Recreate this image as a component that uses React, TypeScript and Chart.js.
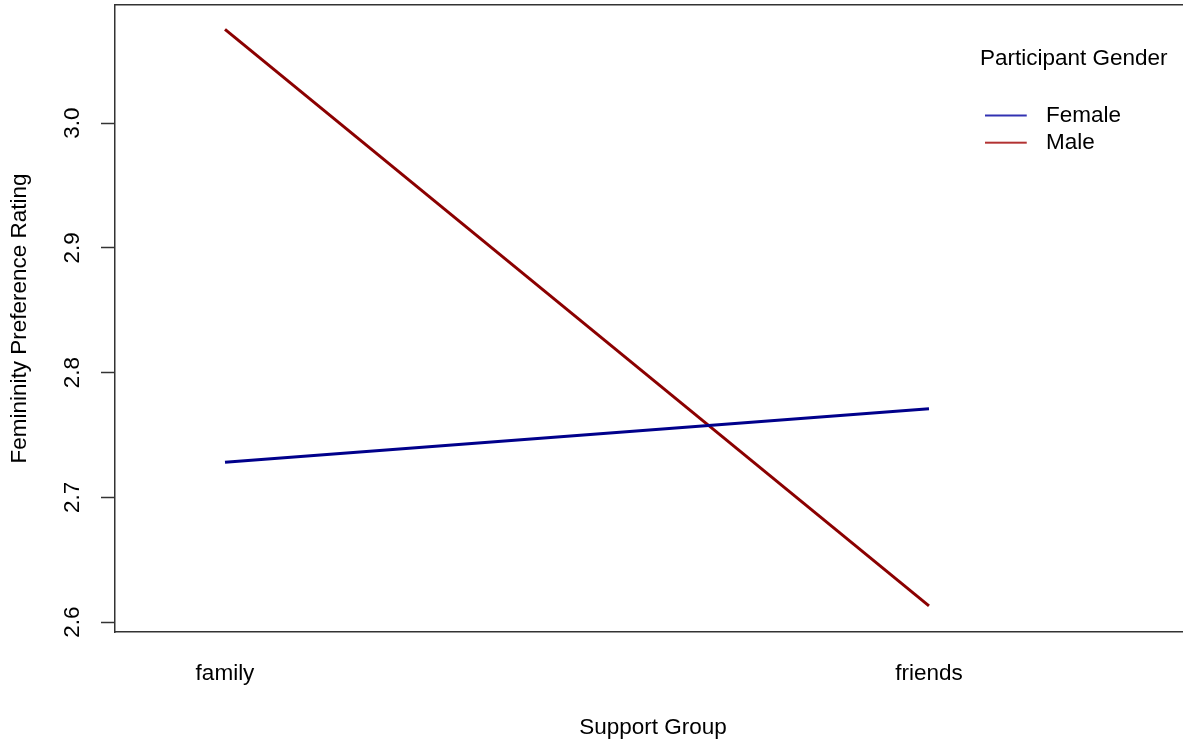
import React, { useEffect, useRef } from 'react';
import { Chart, registerables } from 'chart.js';

Chart.register(...registerables);

// ---- data ----
const groups = ['family', 'friends'];
const groupPositions = [1, 2];
const femaleValues = [2.728, 2.771];
const maleValues = [3.075, 2.613];
const yTicks = [2.6, 2.7, 2.8, 2.9, 3.0];
const seriesNames = ['Female', 'Male'];
const seriesColors = ['#00008B', '#8B0000'];
const legendMarkerColors = ['#0000a0', '#a00000'];
const xTitle = 'Support Group';
const yTitle = 'Femininity Preference Rating';
const legendTitle = 'Participant Gender';

const FONT = "'Liberation Sans', Arial, sans-serif";
const FS = 22.5;
const AXIS_COLOR = '#333';

function lineMarker(color: string): HTMLCanvasElement {
  const c = document.createElement('canvas');
  c.width = 50;
  c.height = 4;
  const g = c.getContext('2d');
  if (g) {
    g.fillStyle = color;
    g.fillRect(0, 1.2, 42, 1.6);
  }
  return c;
}

const legendPlacer = {
  id: 'legendPlacer',
  afterLayout(chart: any) {
    const lg = chart.legend;
    if (!lg) return;
    const w = 215;
    const h = lg.height;
    lg.width = w;
    lg.left = 980;
    lg.top = 40;
    lg.right = 980 + w;
    lg.bottom = 40 + h;
  },
};

export default function App() {
  const ref = useRef<HTMLCanvasElement | null>(null);

  useEffect(() => {
    if (!ref.current) return;
    const series = [femaleValues, maleValues];
    const chart = new Chart(ref.current, {
      type: 'line',
      data: {
        datasets: series.map((vals, i) => ({
          label: seriesNames[i],
          data: vals.map((v, j) => ({ x: groupPositions[j], y: v })),
          borderColor: seriesColors[i],
          backgroundColor: seriesColors[i],
          borderWidth: 3,
          pointRadius: 0,
          pointHoverRadius: 0,
          pointStyle: lineMarker(legendMarkerColors[i]) as any,
          tension: 0,
          fill: false,
        })),
      },
      options: {
        responsive: false,
        animation: false,
        events: [],
        layout: { padding: { top: 5, right: 4, left: 0, bottom: 0 } },
        scales: {
          x: {
            type: 'linear',
            position: 'bottom',
            min: 0.84375,
            max: 2.3722,
            afterBuildTicks: (s: any) => {
              s.ticks = groupPositions.map((v) => ({ value: v }));
            },
            afterFit: (s: any) => {
              s.height = 116;
              s.paddingLeft = 0;
              s.paddingRight = 0;
            },
            ticks: {
              padding: 27.8,
              maxRotation: 0,
              minRotation: 0,
              autoSkip: false,
              color: '#000',
              font: { family: FONT, size: FS },
              callback: (v: any) => groups[groupPositions.indexOf(Number(v))] ?? '',
            },
            grid: { display: false, drawTicks: false, drawOnChartArea: false },
            border: { display: true, color: AXIS_COLOR, width: 1.5 },
            title: {
              display: true,
              text: xTitle,
              color: '#000',
              font: { family: FONT, size: FS },
              padding: { top: 0, bottom: 6.8 },
            },
          },
          xTop: {
            type: 'linear',
            position: 'top',
            min: 0.84375,
            max: 2.3722,
            afterFit: (s: any) => {
              s.height = 0;
              s.paddingLeft = 0;
              s.paddingRight = 0;
            },
            ticks: { display: false },
            grid: { display: false, drawTicks: false, drawOnChartArea: false },
            border: { display: true, color: AXIS_COLOR, width: 1.5 },
          },
          y: {
            type: 'linear',
            position: 'left',
            min: 2.592,
            max: 3.0946,
            afterBuildTicks: (s: any) => {
              s.ticks = yTicks.map((v) => ({ value: v }));
            },
            afterFit: (s: any) => {
              s.width = 115;
              s.paddingTop = 0;
              s.paddingBottom = 0;
            },
            ticks: {
              padding: 12.9,
              minRotation: 90,
              maxRotation: 90,
              crossAlign: 'center',
              color: '#000',
              font: { family: FONT, size: FS },
              callback: (v: any) => Number(v).toFixed(1),
            },
            grid: {
              display: true,
              drawOnChartArea: false,
              drawTicks: true,
              tickLength: 14,
              tickWidth: 1.5,
              tickColor: AXIS_COLOR,
            },
            border: { display: true, color: AXIS_COLOR, width: 1.5 },
            title: {
              display: true,
              text: yTitle,
              color: '#000',
              font: { family: FONT, size: FS },
              padding: { top: 6.5, bottom: 0 },
            },
          },
        },
        plugins: {
          legend: {
            display: true,
            position: 'chartArea',
            align: 'start',
            labels: {
              usePointStyle: true,
              pointStyleWidth: 50,
              padding: 4.7,
              color: '#000',
              font: { family: FONT, size: FS },
            },
            title: {
              display: true,
              text: legendTitle,
              position: 'start',
              color: '#000',
              font: { family: FONT, size: FS },
              padding: { top: 7.5, bottom: 25 },
            },
          },
          tooltip: { enabled: false },
        },
      } as any,
      plugins: [legendPlacer],
    });
    return () => chart.destroy();
  }, []);

  return (
    <div
      style={{
        position: 'fixed',
        left: 0,
        top: 0,
        width: 1183,
        height: 748,
        overflow: 'hidden',
        background: '#fff',
      }}
    >
      <canvas ref={ref} width={1195} height={748} style={{ display: 'block' }} />
    </div>
  );
}
